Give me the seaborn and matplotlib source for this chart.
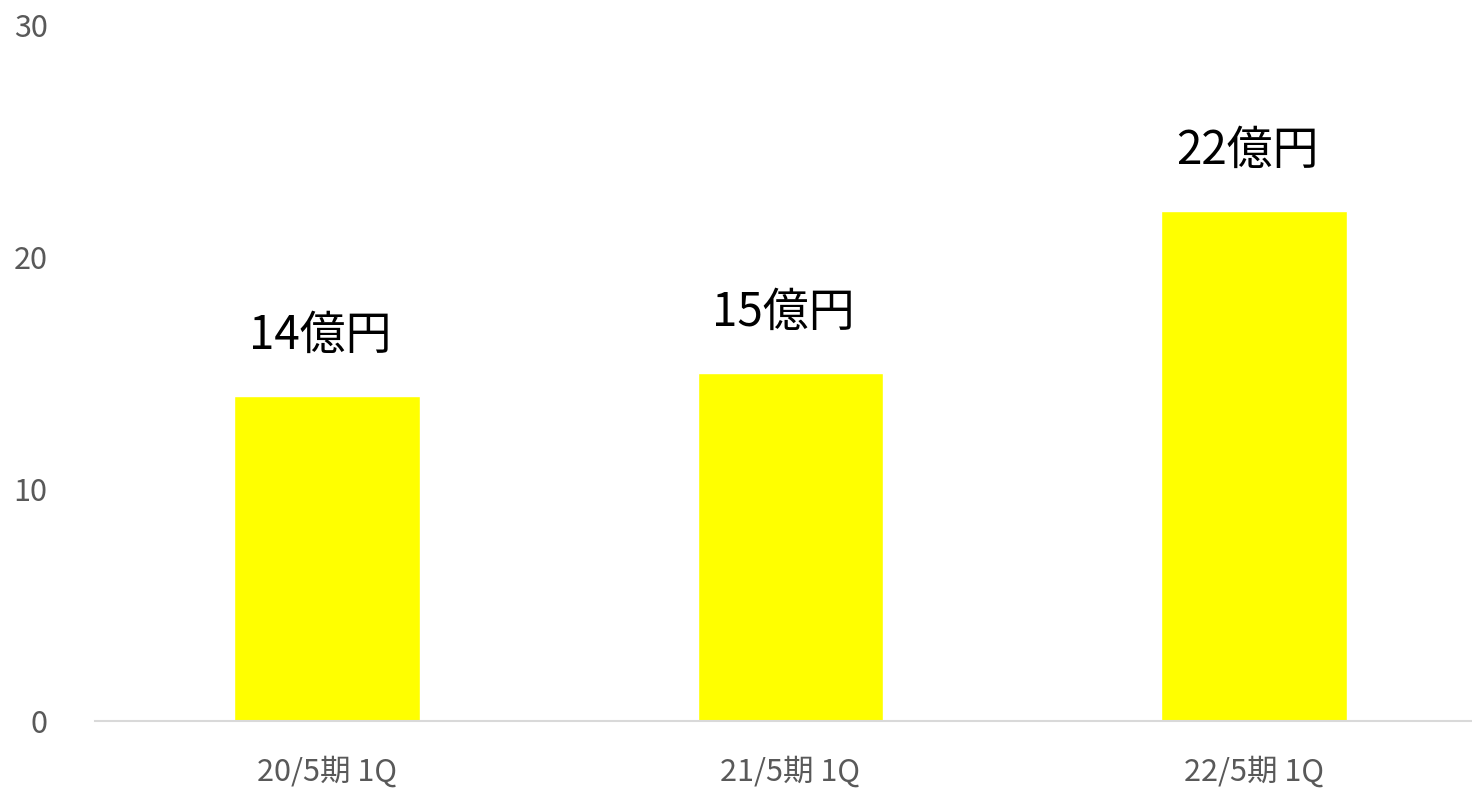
import seaborn as sns
import matplotlib.pyplot as plt

periods = ["20/5期 1Q", "21/5期 1Q", "22/5期 1Q"]
values = [14, 15, 22]
labels = ["14億円", "15億円", "22億円"]
yticks = [0, 10, 20, 30]

sns.set_style("white")
plt.rcParams['font.family'] = ['Noto Sans CJK JP', 'DejaVu Sans']

fig = plt.figure(figsize=(14.72, 7.90), dpi=100)
ax = fig.add_axes([0.0645, 0.0873, 0.9355, 0.881])

sns.barplot(x=periods, y=values, color="#FFFF00", width=0.4,
            saturation=1, ax=ax)

for i, (v, lab) in enumerate(zip(values, labels)):
    ax.text(i - 0.015, v + 2.6, lab, ha="center", va="center",
            fontsize=33, color="black")

ax.set_ylim(0, 30)
ax.set_xlim(-0.5, 2.47)
ax.set_yticks(yticks)
ax.tick_params(axis="y", labelsize=22, labelcolor="#595959", length=0, pad=34)
ax.tick_params(axis="x", labelsize=22, labelcolor="#595959", length=0, pad=25)
for side in ["top", "right", "left"]:
    ax.spines[side].set_visible(False)
ax.spines["bottom"].set_color("#D9D9D9")
ax.spines["bottom"].set_linewidth(1.5)
ax.grid(False)

plt.savefig("out.png", dpi=100)
plt.close()
